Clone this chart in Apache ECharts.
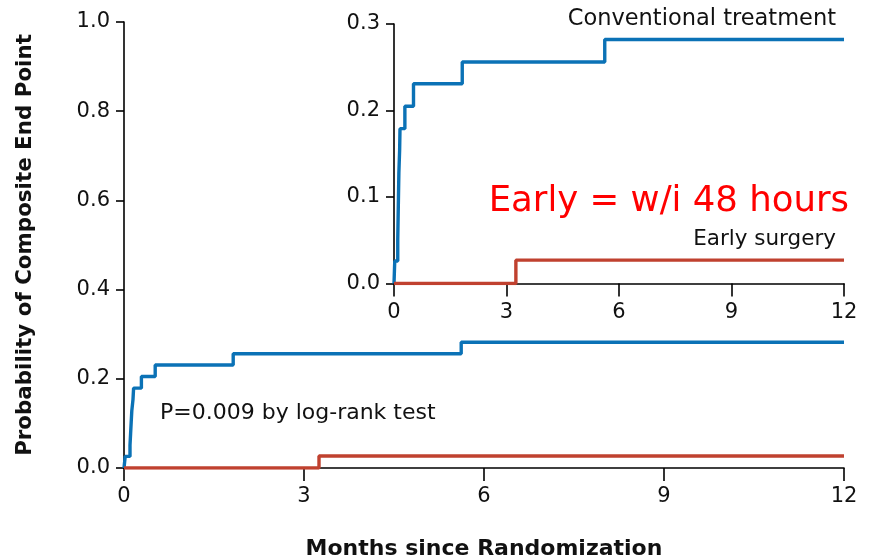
<!DOCTYPE html>
<html>
<head>
<meta charset="utf-8">
<script src="https://cdn.jsdelivr.net/npm/echarts@6/dist/echarts.min.js"></script>
<style>
  html, body { margin: 0; padding: 0; background: #fff; }
  #chart { width: 876px; height: 560px; }
</style>
</head>
<body>
<div id="chart"></div>
<script>
// Cumulative probability of the composite end point (Kaplan-Meier steps)
const conventionalMonths = [0, 0.02, 0.10, 0.11, 0.12, 0.13, 0.15, 0.16, 0.29, 0.52, 1.82, 5.62, 12];
const conventionalProb   = [0, 0.026, 0.051, 0.077, 0.103, 0.128, 0.154, 0.179, 0.205, 0.231, 0.256, 0.282, 0.282];
const earlyMonths = [0, 3.25, 12];
const earlyProb   = [0, 0.027, 0.027];

const mainYTicks = [0, 0.2, 0.4, 0.6, 0.8, 1.0];
const insetYTicks = [0, 0.1, 0.2, 0.3];
const xTicks = [0, 3, 6, 9, 12];

const seriesLabels = ['Conventional treatment', 'Early surgery'];
const pValueText = 'P=0.009 by log-rank test';
const noteText = 'Early = w/i 48 hours';

const BLUE = '#0B72B6';
const RED = '#C0412F';
const FONT = 'DejaVu Sans';

function pairs(xs, ys) { return xs.map((x, i) => [x, ys[i]]); }

function xAxisCfg(gridIndex, margin) {
  return {
    type: 'value', gridIndex, min: xTicks[0], max: xTicks[xTicks.length - 1], interval: 3,
    axisLine: { show: true, onZero: false, lineStyle: { color: '#000', width: 1.6 } },
    axisTick: { show: true, inside: false, length: 13, lineStyle: { color: '#000', width: 1.6 } },
    axisLabel: { fontSize: 21, color: '#111', fontFamily: FONT, margin },
    splitLine: { show: false }
  };
}
function yAxisCfg(gridIndex, ticks, interval) {
  return {
    type: 'value', gridIndex, min: ticks[0], max: ticks[ticks.length - 1], interval,
    axisLine: { show: true, onZero: false, lineStyle: { color: '#000', width: 1.6 } },
    axisTick: { show: true, inside: false, length: 8, lineStyle: { color: '#000', width: 1.6 } },
    axisLabel: { fontSize: 21, color: '#111', fontFamily: FONT, margin: 14, formatter: v => v.toFixed(1) },
    splitLine: { show: false }
  };
}
function stepSeries(name, xs, ys, color, idx) {
  return {
    name, type: 'line', step: 'end', xAxisIndex: idx, yAxisIndex: idx,
    data: pairs(xs, ys), showSymbol: false, symbol: 'none',
    lineStyle: { color, width: 3.4 }, z: 5, silent: true
  };
}

const chart = echarts.init(document.getElementById('chart'), null, { renderer: 'canvas' });
chart.setOption({
  animation: false,
  backgroundColor: '#fff',
  grid: [
    { left: 124, top: 22, width: 720, height: 446, containLabel: false, outerBoundsMode: 'none' },
    { left: 394, top: 24, width: 450, height: 259.5, containLabel: false, outerBoundsMode: 'none' }
  ],
  xAxis: [
    Object.assign(xAxisCfg(0, 18), {
      name: 'Months since Randomization', nameLocation: 'middle', nameGap: 70,
      nameTextStyle: { fontSize: 22, fontWeight: 'bold', color: '#111', fontFamily: FONT }
    }),
    xAxisCfg(1, 19)
  ],
  yAxis: [
    Object.assign(yAxisCfg(0, mainYTicks, 0.2), {
      name: 'Probability of Composite End Point', nameLocation: 'middle', nameGap: 88,
      nameTextStyle: { fontSize: 21.4, fontWeight: 'bold', color: '#111', fontFamily: FONT }
    }),
    yAxisCfg(1, insetYTicks, 0.1)
  ],
  series: [
    stepSeries(seriesLabels[0], conventionalMonths, conventionalProb, BLUE, 0),
    stepSeries(seriesLabels[1], earlyMonths, earlyProb, RED, 0),
    stepSeries(seriesLabels[0], conventionalMonths, conventionalProb, BLUE, 1),
    stepSeries(seriesLabels[1], earlyMonths, earlyProb, RED, 1)
  ],
  graphic: [
    { type: 'text', right: 876 - 836, top: 8,
      style: { text: seriesLabels[0], font: '22.5px "' + FONT + '"', fill: '#111' } },
    { type: 'text', right: 876 - 836, top: 228,
      style: { text: seriesLabels[1], font: '21.5px "' + FONT + '"', fill: '#111' } },
    { type: 'text', right: 876 - 849, top: 184,
      style: { text: noteText, font: '35.5px "' + FONT + '"', fill: '#FF0000' } },
    { type: 'text', left: 160, top: 402,
      style: { text: pValueText, font: '22px "' + FONT + '"', fill: '#111' } }
  ]
});
</script>
</body>
</html>
